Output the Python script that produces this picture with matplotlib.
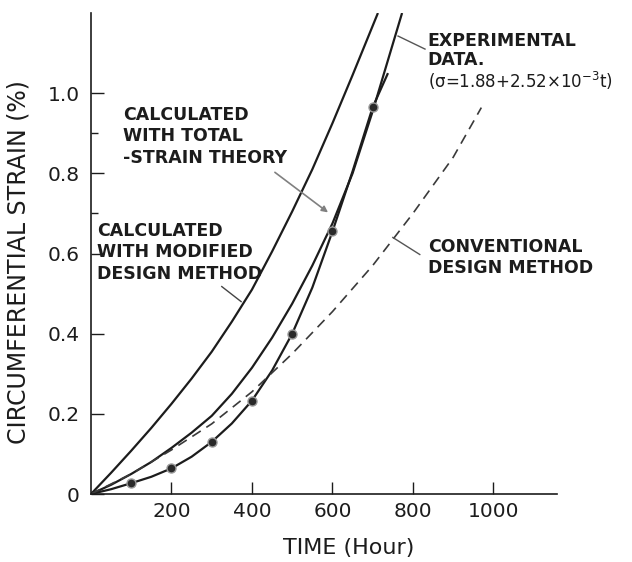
import matplotlib.pyplot as plt
from matplotlib.ticker import FixedLocator

# ---------------------------------------------------------------------------
# Data (time in hours, circumferential strain in %)
# ---------------------------------------------------------------------------
MOD_T = [0, 50, 100, 150, 200, 250, 300, 350, 400, 450, 500, 550, 600, 650, 713]
MOD_S = [0, 0.053, 0.108, 0.165, 0.225, 0.288, 0.355, 0.43, 0.51, 0.605,
         0.705, 0.81, 0.925, 1.045, 1.2]

TOTAL_T = [0, 50, 100, 150, 200, 250, 300, 350, 400, 450, 500, 550, 600,
           650, 700, 773]
TOTAL_S = [0, 0.023, 0.05, 0.08, 0.115, 0.153, 0.195, 0.25, 0.315, 0.39,
           0.475, 0.57, 0.675, 0.8, 0.955, 1.2]

EXP_T = [0, 50, 100, 150, 200, 250, 300, 350, 400, 450, 500, 550, 600, 650,
         700, 738]
EXP_S = [0, 0.012, 0.027, 0.043, 0.064, 0.093, 0.13, 0.176, 0.233, 0.308,
         0.40, 0.515, 0.655, 0.805, 0.965, 1.05]
EXP_PT_T = [100, 200, 300, 400, 500, 600, 700]
EXP_PT_S = [0.027, 0.064, 0.13, 0.233, 0.40, 0.655, 0.965]

CONV_T = [0, 100, 200, 300, 400, 500, 600, 700, 800, 900, 970]
CONV_S = [0, 0.05, 0.11, 0.175, 0.255, 0.35, 0.455, 0.57, 0.70, 0.84, 0.964]

X_TICKS = [200, 400, 600, 800, 1000]
Y_TICKS = [0, 0.2, 0.4, 0.6, 0.8, 1.0]
Y_TICK_LABELS = ["0", "0.2", "0.4", "0.6", "0.8", "1.0"]
Y_MINOR = [0.7, 0.9]

INK = "#1c1c1c"
LEADER = "#808080"

# ---------------------------------------------------------------------------
# Figure
# ---------------------------------------------------------------------------
fig = plt.figure(figsize=(6.32, 5.62), dpi=100)
ax = fig.add_axes([91 / 632, 68 / 562, 466 / 632, 481 / 562])
ax.set_xlim(0, 1158)
ax.set_ylim(0, 1.2)

for side in ("top", "right"):
    ax.spines[side].set_visible(False)
for side in ("left", "bottom"):
    ax.spines[side].set_linewidth(1.2)
    ax.spines[side].set_color(INK)

# curves
ax.plot(MOD_T, MOD_S, color=INK, lw=1.6, solid_capstyle="butt")
ax.plot(TOTAL_T, TOTAL_S, color=INK, lw=1.6, solid_capstyle="butt")
ax.plot(EXP_T, EXP_S, color=INK, lw=1.6, solid_capstyle="butt")
ax.plot(EXP_PT_T, EXP_PT_S, ls="none", marker="o", ms=6.5,
        mfc="#2a2a2a", mec="#9a9a9a", mew=1.0)
ax.plot(CONV_T, CONV_S, color="#3a3a3a", lw=1.2, ls=(0, (6, 4)))

# ticks
ax.xaxis.set_major_locator(FixedLocator(X_TICKS))
ax.set_yticks(Y_TICKS)
ax.set_yticklabels(Y_TICK_LABELS)
ax.yaxis.set_minor_locator(FixedLocator(Y_MINOR))
ax.tick_params(axis="both", which="major", direction="in", length=9,
               width=1.0, color=INK, labelsize=14.5, labelcolor=INK)
ax.tick_params(axis="x", which="major", pad=6)
ax.tick_params(axis="y", which="major", pad=8)
ax.tick_params(axis="y", which="minor", direction="in", length=5,
               width=1.0, color=INK)

# axis titles
ax.set_xlabel("TIME (Hour)", fontsize=16, color=INK)
ax.xaxis.set_label_coords(0.554, -0.112)
ax.xaxis.label.set_va("center")
ax.set_ylabel("CIRCUMFERENTIAL STRAIN (%)", fontsize=17, color=INK)
ax.yaxis.set_label_coords(-0.156, 0.482)
ax.yaxis.label.set_va("center")

# ---------------------------------------------------------------------------
# Annotations
# ---------------------------------------------------------------------------
txt = dict(fontsize=12.5, fontweight="bold", color=INK, ha="left",
           va="center", linespacing=1.25)

ax.text(80, 0.8925, "CALCULATED\nWITH TOTAL\n-STRAIN THEORY", **txt)
ax.annotate("", xy=(589, 0.7025), xytext=(457, 0.8025),
            arrowprops=dict(arrowstyle="-|>", color=LEADER, lw=1.2,
                            mutation_scale=9, shrinkA=0, shrinkB=0))

ax.text(15, 0.6025, "CALCULATED\nWITH MODIFIED\nDESIGN METHOD", **txt)
ax.plot([325, 373], [0.5175, 0.48], color="#444444", lw=1.0)

ax.text(837, 1.106, "EXPERIMENTAL\nDATA.", fontsize=12.5, fontweight="bold",
        color=INK, ha="left", va="center", linespacing=1.1)
ax.text(837, 1.03, "(σ=1.88+2.52×10$^{-3}$t)", fontsize=12, color=INK,
        ha="left", va="center")
ax.plot([830, 763], [1.11, 1.1425], color="#555555", lw=1.0)

ax.text(837, 0.59, "CONVENTIONAL\nDESIGN METHOD", **txt)
ax.plot([817, 750], [0.5975, 0.64], color="#555555", lw=1.0)

fig.savefig("out.png", dpi=100)
